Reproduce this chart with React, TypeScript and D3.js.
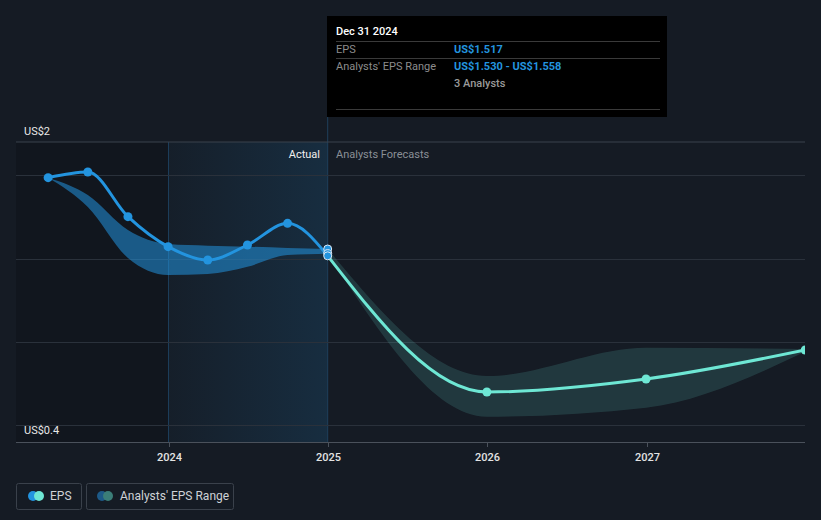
import React from "react";
import * as d3 from "d3";

const actualDates = ["2023-03-31", "2023-06-30", "2023-09-30", "2023-12-31", "2024-03-31", "2024-06-30", "2024-09-30", "2024-12-31"];
const actualEps = [1.986, 2.02, 1.752, 1.572, 1.492, 1.582, 1.712, 1.517];
const pastRangeLow = [1.986, 1.81, 1.504, 1.402, 1.408, 1.452, 1.522, 1.53];
const pastRangeHigh = [1.986, 1.882, 1.672, 1.588, 1.578, 1.572, 1.564, 1.558];

const forecastDates = ["2024-12-31", "2025-12-31", "2026-12-31", "2027-12-31"];
const forecastEps = [1.517, 0.7, 0.778, 0.952];
const forecastLow = [1.53, 0.552, 0.606, 0.942];
const forecastHigh = [1.558, 0.796, 0.966, 0.958];

const gridValues = [0.5, 1.0, 1.5, 2.0];
const tickYears = [2024, 2025, 2026, 2027];
const yLabels = ["US$2", "US$0.4"];

const W = 821;
const H = 520;
const LEFT = 16;
const RIGHT = 805;
const TOP = 142;
const BOTTOM = 442;

const BG = "#151b24";
const BLUE = "#2394df";
const TEAL = "#6ee7d4";
const FONT = "Roboto, 'Open Sans', sans-serif";

const parse = (s: string) => new Date(s + "T00:00:00");

export default function App() {
  const x = d3
    .scaleTime()
    .domain([new Date(2024, 0, 1), new Date(2027, 0, 1)])
    .range([168.5, 646.5]);
  const y = d3.scaleLinear().domain([0.4, 2.2]).range([BOTTOM, TOP]);

  const actual = actualDates.map((d, i) => ({ d: parse(d), v: actualEps[i], lo: pastRangeLow[i], hi: pastRangeHigh[i] }));
  const forecast = forecastDates.map((d, i) => ({ d: parse(d), v: forecastEps[i], lo: forecastLow[i], hi: forecastHigh[i] }));

  const line = d3
    .line<{ d: Date; v: number }>()
    .x((p) => x(p.d))
    .y((p) => y(p.v))
    .curve(d3.curveMonotoneX);
  const area = d3
    .area<{ d: Date; lo: number; hi: number }>()
    .x((p) => x(p.d))
    .y0((p) => y(p.lo))
    .y1((p) => y(p.hi))
    .curve(d3.curveMonotoneX);

  const xNow = x(parse("2024-12-31"));
  const x2024 = x(new Date(2024, 0, 1));
  const last = actual[actual.length - 1];

  return (
    <div style={{ position: "fixed", left: 0, top: 0, width: W, height: H }}>
      <svg width={W} height={H} style={{ display: "block", fontFamily: FONT }}>
        <defs>
          <linearGradient id="hl" x1="0" x2="1" y1="0" y2="0">
            <stop offset="0%" stopColor={BLUE} stopOpacity={0.03} />
            <stop offset="100%" stopColor={BLUE} stopOpacity={0.15} />
          </linearGradient>
          <clipPath id="plotclip">
            <rect x={LEFT} y={0} width={RIGHT - LEFT} height={BOTTOM} />
          </clipPath>
        </defs>
        <rect x={0} y={0} width={W} height={H} fill={BG} />

        {/* past dark region */}
        <rect x={LEFT} y={TOP} width={x2024 - LEFT} height={BOTTOM - TOP} fill="#000" opacity={0.15} />
        {/* highlight region */}
        <rect x={x2024} y={TOP} width={xNow - x2024} height={BOTTOM - TOP} fill="url(#hl)" />
        <line x1={x2024} x2={x2024} y1={TOP} y2={BOTTOM} stroke="#1c3d5a" strokeWidth={1} />
        <line x1={xNow} x2={xNow} y1={117} y2={BOTTOM} stroke="#1e3f5c" strokeWidth={1} />

        {/* grid */}
        <line x1={LEFT} x2={RIGHT} y1={TOP} y2={TOP} stroke="#3b424c" strokeWidth={1} />
        {gridValues.map((g) => (
          <line key={g} x1={LEFT} x2={RIGHT} y1={Math.round(y(g)) + 0.5} y2={Math.round(y(g)) + 0.5} stroke="#2a313b" strokeWidth={1} />
        ))}
        <line x1={LEFT} x2={RIGHT} y1={BOTTOM + 0.5} y2={BOTTOM + 0.5} stroke="#4a515b" strokeWidth={1} />
        {tickYears.map((t) => {
          const tx = Math.round(x(new Date(t, 0, 1))) + 0.5;
          return (
            <g key={t}>
              <line x1={tx} x2={tx} y1={BOTTOM} y2={BOTTOM + 5} stroke="#4a515b" />
              <text x={tx} y={461} textAnchor="middle" fill="#e3e3e3" fontSize={11} fontWeight={500}>
                {t}
              </text>
            </g>
          );
        })}

        <text x={24} y={135} fill="#e8e8e8" fontSize={11}>{yLabels[0]}</text>
        <text x={24} y={434} fill="#e8e8e8" fontSize={11}>{yLabels[1]}</text>

        <text x={320} y={158} textAnchor="end" fill="#f0f0f0" fontSize={11}>Actual</text>
        <text x={336} y={158} fill="#8a8f96" fontSize={11}>Analysts Forecasts</text>

        <g clipPath="url(#plotclip)">
          <path d={area(actual) || ""} fill={BLUE} opacity={0.55} />
          <path d={area(forecast) || ""} fill={TEAL} opacity={0.15} />
          <path d={line(forecast) || ""} fill="none" stroke={TEAL} strokeWidth={3} />
          <path d={line(actual) || ""} fill="none" stroke={BLUE} strokeWidth={3} />
          {actual.slice(0, -1).map((p, i) => (
            <circle key={i} cx={x(p.d)} cy={y(p.v)} r={4.5} fill={BLUE} />
          ))}
          {forecast.slice(1).map((p, i) => (
            <circle key={i} cx={x(p.d)} cy={y(p.v)} r={4.5} fill={TEAL} />
          ))}
          <circle cx={x(last.d)} cy={y(last.hi)} r={4} fill={BLUE} stroke="#dfe9f3" strokeWidth={1} />
          <circle cx={x(last.d)} cy={y(last.lo)} r={4} fill={BLUE} stroke="#dfe9f3" strokeWidth={1} />
          <circle cx={x(last.d)} cy={y(last.v)} r={4} fill={BLUE} stroke="#dfe9f3" strokeWidth={1} />
        </g>

        {/* tooltip */}
        <rect x={327} y={16} width={340} height={101} fill="#000" />
        <text x={336} y={35} fill="#ffffff" fontSize={11} fontWeight={500}>Dec 31 2024</text>
        <line x1={336} x2={660} y1={41.5} y2={41.5} stroke="#3a3a3a" />
        <text x={336} y={53} fill="#8c8c8c" fontSize={11}>EPS</text>
        <text x={454} y={53} fill={BLUE} fontSize={11} fontWeight={700}>US$1.517</text>
        <line x1={336} x2={660} y1={58.5} y2={58.5} stroke="#3a3a3a" />
        <text x={336} y={70} fill="#8c8c8c" fontSize={11}>Analysts' EPS Range</text>
        <text x={454} y={70} fill={BLUE} fontSize={11} fontWeight={700}>US$1.530 - US$1.558</text>
        <text x={454} y={87} fill="#9a9a9a" fontSize={11} fontWeight={500}>3 Analysts</text>
        <line x1={336} x2={660} y1={109.5} y2={109.5} stroke="#3a3a3a" />

        {/* legend */}
        <rect x={16.5} y={483.5} width={65} height={26} rx={2} fill="none" stroke="#3a414b" />
        <circle cx={33} cy={496} r={5} fill={BLUE} />
        <circle cx={39} cy={496} r={5} fill={TEAL} />
        <text x={50} y={500} fill="#cfd2d6" fontSize={12}>EPS</text>
        <rect x={86.5} y={483.5} width={147} height={26} rx={2} fill="none" stroke="#3a414b" />
        <circle cx={102} cy={496} r={5} fill="#1d5a88" />
        <circle cx={108} cy={496} r={5} fill="#3b7e78" />
        <text x={120} y={500} fill="#cfd2d6" fontSize={12}>Analysts' EPS Range</text>
      </svg>
    </div>
  );
}
